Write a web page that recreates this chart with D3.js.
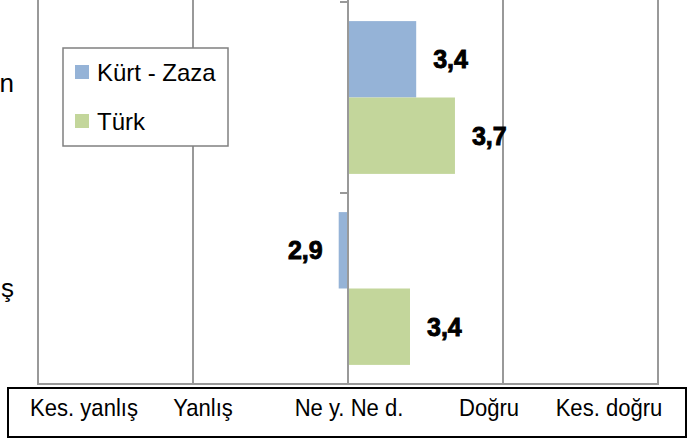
<!DOCTYPE html>
<html>
<head>
<meta charset="utf-8">
<script src="https://cdn.jsdelivr.net/npm/d3@7"></script>
<style>
  body { margin: 0; background: #fff; }
  svg { display: block; font-family: "Liberation Sans", Arial, sans-serif; }
</style>
</head>
<body>
<div id="chart"></div>
<script>
// data (scale 1..5, bars start at 3)
const categories = ["n", "ş"];
const seriesNames = ["Kürt - Zaza", "Türk"];
const kurtValues = [3.44, 2.94];
const turkValues = [3.69, 3.40];
const valueLabels = [["3,4", "3,7"], ["2,9", "3,4"]];
const scaleLabels = ["Kes. yanlış", "Yanlış", "Ne y. Ne d.", "Doğru", "Kes. doğru"];

const colors = ["#95b3d7", "#c3d69b"];
const width = 690, height = 440;
const plot = { left: 38, right: 658, top: 2, bottom: 384 };
const baseValue = 3;

const svg = d3.select("#chart").append("svg")
    .attr("width", width)
    .attr("height", height);

const x = d3.scaleLinear().domain([1, 5]).range([plot.left, plot.right]);
const y = d3.scaleBand().domain(categories).range([plot.top, plot.bottom]);
const ySub = d3.scaleBand().domain(seriesNames).range([0, y.bandwidth()]).paddingOuter(0.25);

// vertical gridlines
svg.append("g")
    .selectAll("line")
    .data(x.ticks(4))
    .join("line")
    .attr("x1", d => x(d)).attr("x2", d => x(d))
    .attr("y1", 0).attr("y2", plot.bottom)
    .attr("stroke", "#999")
    .attr("stroke-width", 2);

svg.append("line")
    .attr("x1", plot.left - 1).attr("x2", plot.right + 1)
    .attr("y1", plot.bottom).attr("y2", plot.bottom)
    .attr("stroke", "#999")
    .attr("stroke-width", 2);

// bars
const rows = categories.map((c, i) => ({
    cat: c,
    vals: [kurtValues[i], turkValues[i]],
    labels: valueLabels[i]
}));

const grp = svg.append("g").selectAll("g")
    .data(rows)
    .join("g")
    .attr("transform", d => `translate(0,${y(d.cat)})`);

grp.selectAll("rect")
    .data(d => d.vals.map((v, j) => ({ v, s: seriesNames[j], j })))
    .join("rect")
    .attr("x", d => x(Math.min(d.v, baseValue)))
    .attr("width", d => Math.abs(x(d.v) - x(baseValue)))
    .attr("y", d => ySub(d.s))
    .attr("height", ySub.bandwidth())
    .attr("fill", d => colors[d.j]);

grp.selectAll("text")
    .data(d => d.vals.map((v, j) => ({ v, s: seriesNames[j], lab: d.labels[j] })))
    .join("text")
    .attr("x", d => d.v >= baseValue ? x(d.v) + 17 : x(d.v) - 16)
    .attr("y", d => ySub(d.s) + ySub.bandwidth() / 2)
    .attr("dy", "0.36em")
    .attr("text-anchor", d => d.v >= baseValue ? "start" : "end")
    .attr("font-size", 25)
    .attr("font-weight", "bold")
    .attr("stroke", "#000")
    .attr("stroke-width", 0.9)
    .text(d => d.lab);

// category axis at the base value
const yAxis = svg.append("g")
    .attr("transform", `translate(${x(baseValue)},0)`);
yAxis.append("line")
    .attr("y1", plot.top).attr("y2", plot.bottom)
    .attr("stroke", "#999").attr("stroke-width", 2);
yAxis.selectAll("line.tick")
    .data([plot.top, ...categories.map(c => y(c) + y.bandwidth())])
    .join("line")
    .attr("class", "tick")
    .attr("x1", -8).attr("x2", 0)
    .attr("y1", d => d).attr("y2", d => d)
    .attr("stroke", "#999").attr("stroke-width", 2);

// category labels (cut at the left edge)
svg.append("g").selectAll("text")
    .data(categories)
    .join("text")
    .attr("x", 14)
    .attr("y", (d, i) => y(d) + y.bandwidth() / 2 + (i === 0 ? -6 : 8))
    .attr("text-anchor", "end")
    .attr("font-size", 26)
    .attr("fill", "#000")
    .text(d => d);

// legend
const legend = svg.append("g").attr("transform", "translate(63,48)");
legend.append("rect")
    .attr("width", 165).attr("height", 98)
    .attr("fill", "#fff")
    .attr("stroke", "#808080").attr("stroke-width", 1.5);
const li = legend.selectAll("g.item")
    .data(seriesNames)
    .join("g")
    .attr("class", "item")
    .attr("transform", (d, i) => `translate(12,${17 + i * 49})`);
li.append("rect")
    .attr("width", 14).attr("height", 14)
    .attr("fill", (d, i) => colors[i]);
li.append("text")
    .attr("x", 22).attr("y", 16)
    .attr("font-size", 24)
    .attr("fill", "#000")
    .text(d => d);

// scale label box
const labelCenters = [84, 203, 349, 489, 609];
const box = svg.append("g");
box.append("rect")
    .attr("x", 8).attr("y", 388)
    .attr("width", 678).attr("height", 49)
    .attr("fill", "#fff")
    .attr("stroke", "#000").attr("stroke-width", 2);
box.selectAll("text")
    .data(scaleLabels)
    .join("text")
    .attr("transform", (d, i) => `translate(${labelCenters[i]},416) scale(0.92,1)`)
    .attr("text-anchor", "middle")
    .attr("font-size", 24)
    .attr("fill", "#000")
    .text(d => d);
</script>
</body>
</html>
